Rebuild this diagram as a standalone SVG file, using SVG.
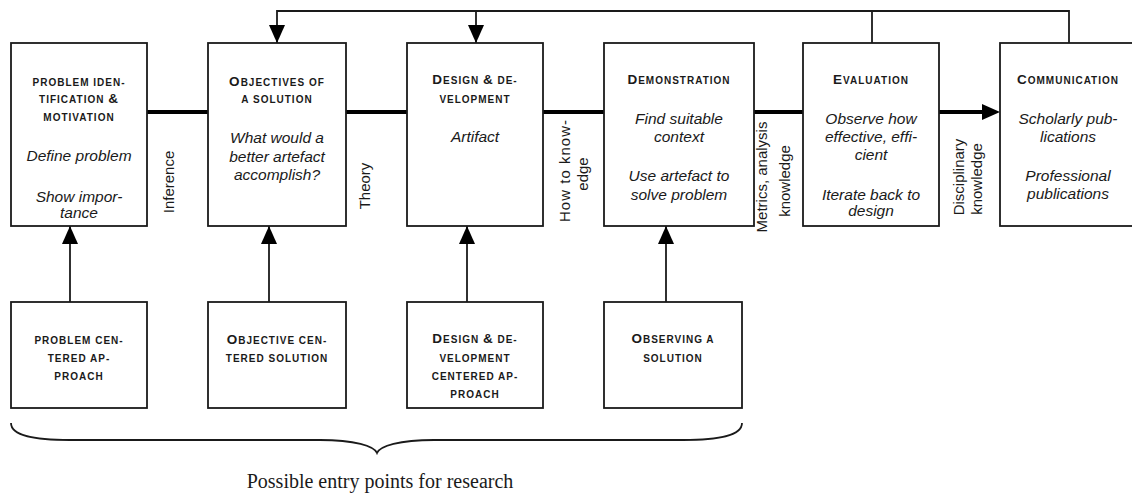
<svg xmlns="http://www.w3.org/2000/svg" width="1132" height="495" viewBox="0 0 1132 495">
<style>
.box{fill:#fff;stroke:#1a1a1a;stroke-width:1.8}
.t{font-family:"Liberation Sans",Arial,sans-serif;font-weight:bold;font-size:10px;letter-spacing:1px;fill:#1a1a1a;text-anchor:middle}
.t .c{font-size:13.5px}
.i{font-family:"Liberation Sans",Arial,sans-serif;font-style:italic;font-size:15.5px;fill:#1a1a1a;text-anchor:middle}
.v{font-family:"Liberation Sans",Arial,sans-serif;font-size:15px;fill:#1a1a1a;text-anchor:middle}
.thin{fill:none;stroke:#1a1a1a;stroke-width:1.8}
.thick{fill:none;stroke:#000;stroke-width:4}
.cap{font-family:"Liberation Serif","Times New Roman",serif;font-size:20px;fill:#1a1a1a;text-anchor:middle}
</style>
<defs>
<marker id="ah" markerUnits="userSpaceOnUse" markerWidth="18" markerHeight="16" refX="18" refY="8" orient="auto"><path d="M0,0 L18,8 L0,16 z" fill="#000"/></marker>
</defs>
<g id="connectors">
<path class="thick" d="M147 112 H208 M346 112 H407 M543 112 H604 M754 112 H803"/>
<path class="thick" d="M939 112 H988"/>
<path d="M982 104 L1000 112 L982 120 z" fill="#000"/>
<path class="thin" d="M1069 43 V11 H277 V43" marker-end="url(#ah)"/>
<path class="thin" d="M872 43 V11"/>
<path class="thin" d="M476 11 V43" marker-end="url(#ah)"/>
<path class="thin" d="M70 302 V226" marker-end="url(#ah)"/>
<path class="thin" d="M269 302 V226" marker-end="url(#ah)"/>
<path class="thin" d="M467 302 V226" marker-end="url(#ah)"/>
<path class="thin" d="M666 302 V226" marker-end="url(#ah)"/>
<g id="edge-labels">
<text class="v" transform="translate(174,182) rotate(-90)">Inference</text>
<text class="v" transform="translate(370,186) rotate(-90)">Theory</text>
<text class="v" transform="translate(570,171) rotate(-90)" textLength="102" lengthAdjust="spacing">How to know-</text>
<text class="v" transform="translate(588,174) rotate(-90)">edge</text>
<text class="v" transform="translate(767,177) rotate(-90)">Metrics, analysis</text>
<text class="v" transform="translate(790,181) rotate(-90)">knowledge</text>
<text class="v" transform="translate(964,177) rotate(-90)">Disciplinary</text>
<text class="v" transform="translate(982,179) rotate(-90)">knowledge</text>
</g>
</g>
<g id="problem">
<rect class="box" x="11" y="43" width="136" height="183"/>
<text class="t" x="79" y="86">PROBLEM IDEN-</text>
<text class="t" x="79" y="103">TIFICATION <tspan class="c">&amp;</tspan></text>
<text class="t" x="79" y="121">MOTIVATION</text>
<text class="i" x="79" y="161">Define problem</text>
<text class="i" x="79" y="202">Show impor-</text>
<text class="i" x="79" y="218">tance</text>
</g>
<g id="objectives">
<rect class="box" x="208" y="43" width="138" height="183"/>
<text class="t" x="277" y="86"><tspan class="c">O</tspan>BJECTIVES OF</text>
<text class="t" x="277" y="103">A SOLUTION</text>
<text class="i" x="277" y="143">What would a</text>
<text class="i" x="277" y="162">better artefact</text>
<text class="i" x="277" y="180">accomplish?</text>
</g>
<g id="design">
<rect class="box" x="407" y="43" width="136" height="183"/>
<text class="t" x="475" y="84"><tspan class="c">D</tspan>ESIGN <tspan class="c">&amp;</tspan> DE-</text>
<text class="t" x="475" y="103">VELOPMENT</text>
<text class="i" x="475" y="142">Artifact</text>
</g>
<g id="demonstration">
<rect class="box" x="604" y="43" width="150" height="183"/>
<text class="t" x="679" y="84"><tspan class="c">D</tspan>EMONSTRATION</text>
<text class="i" x="679" y="124">Find suitable</text>
<text class="i" x="679" y="142">context</text>
<text class="i" x="679" y="181">Use artefact to</text>
<text class="i" x="679" y="200">solve problem</text>
</g>
<g id="evaluation">
<rect class="box" x="803" y="43" width="136" height="183"/>
<text class="t" x="871" y="84"><tspan class="c">E</tspan>VALUATION</text>
<text class="i" x="871" y="124">Observe how</text>
<text class="i" x="871" y="142">effective, effi-</text>
<text class="i" x="871" y="160">cient</text>
<text class="i" x="871" y="200">Iterate back to</text>
<text class="i" x="871" y="216">design</text>
</g>
<g id="communication">
<rect class="box" x="1000" y="43" width="136" height="183"/>
<text class="t" x="1068" y="84"><tspan class="c">C</tspan>OMMUNICATION</text>
<text class="i" x="1068" y="124">Scholarly pub-</text>
<text class="i" x="1068" y="142">lications</text>
<text class="i" x="1068" y="181">Professional</text>
<text class="i" x="1068" y="199">publications</text>
</g>
<g id="problem-centered">
<rect class="box" x="11" y="302" width="136" height="106"/>
<text class="t" x="79" y="344">PROBLEM CEN-</text>
<text class="t" x="79" y="362">TERED AP-</text>
<text class="t" x="79" y="380">PROACH</text>
</g>
<g id="objective-centered">
<rect class="box" x="208" y="302" width="138" height="106"/>
<text class="t" x="277" y="344"><tspan class="c">O</tspan>BJECTIVE CEN-</text>
<text class="t" x="277" y="362">TERED SOLUTION</text>
</g>
<g id="design-centered">
<rect class="box" x="407" y="302" width="136" height="106"/>
<text class="t" x="475" y="343"><tspan class="c">D</tspan>ESIGN <tspan class="c">&amp;</tspan> DE-</text>
<text class="t" x="475" y="362">VELOPMENT</text>
<text class="t" x="475" y="380">CENTERED AP-</text>
<text class="t" x="475" y="398">PROACH</text>
</g>
<g id="observing">
<rect class="box" x="604" y="302" width="138" height="106"/>
<text class="t" x="673" y="343"><tspan class="c">O</tspan>BSERVING A</text>
<text class="t" x="673" y="362">SOLUTION</text>
</g>
<g id="entry-points">
<path class="thin" stroke-width="1.5" d="M11 423 C11 436 35 440 70 440 L320 440 C355 440 374 446 377 453 C380 446 399 440 434 440 L683 440 C718 440 742 436 742 423"/>
<text class="cap" x="380" y="488">Possible entry points for research</text>
</g>
</svg>
